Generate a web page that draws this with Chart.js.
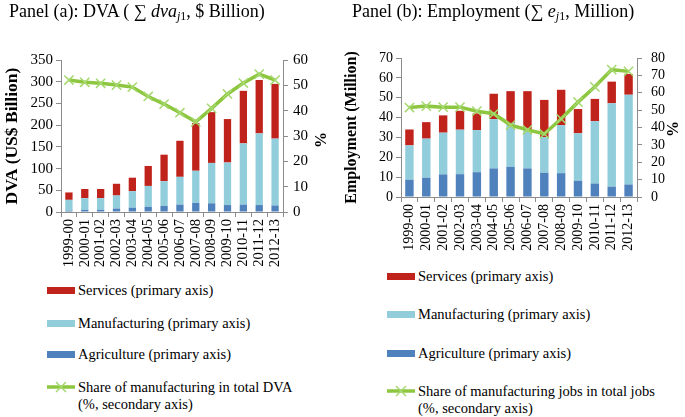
<!DOCTYPE html>
<html>
<head>
<meta charset="utf-8">
<script src="https://cdn.jsdelivr.net/npm/chart.js@4.4.1/dist/chart.umd.min.js"></script>
<style>
  body { margin: 0; background: #fff; }
  #wrap { position: relative; width: 685px; height: 417px; overflow: hidden; font-family: "Liberation Serif", "Times New Roman", serif; color: #000; }
  canvas { position: absolute; top: 0; }
  .title { position: absolute; top: 0; font-size: 18px; line-height: 22px; white-space: nowrap; }
  .title sub { font-size: 12px; vertical-align: -3px; }
  .pct { position: absolute; width: 20px; height: 20px; line-height: 20px; text-align: center;
    font-size: 16px; font-weight: bold; transform: rotate(-90deg); }
  .leg { position: absolute; font-size: 14.5px; line-height: 17px; white-space: nowrap; }
  .sw { position: absolute; left: 0; width: 28px; height: 7px; top: 5px; }
  .leg .txt { position: absolute; left: 31px; top: 0; }
</style>
</head>
<body>
<div id="wrap">
  <canvas id="chartA" width="340" height="280" style="left:0"></canvas>
  <canvas id="chartB" width="345" height="265" style="left:340px"></canvas>
  <div class="title" style="left:9px">Panel (a): DVA ( &sum; <i>dva</i><sub><i>j</i>1</sub>, $ Billion)</div>
  <div class="title" style="left:352px">Panel (b): Employment (&sum; <i>e</i><sub><i>j</i>1</sub>, Million)</div>
  <div class="pct" style="left:311px;top:130px">%</div>
  <div class="pct" style="left:663px;top:119px">%</div>
  <div id="legA"></div>
  <div id="legB"></div>
</div>
<script>
const years = ['1999-00', '2000-01', '2001-02', '2002-03', '2003-04', '2004-05', '2005-06',
  '2006-07', '2007-08', '2008-09', '2009-10', '2010-11', '2011-12', '2012-13'];

// Panel (a): DVA, $ billion (stacked)
const dvaAgriculture = [3, 5, 5, 8, 10, 12, 14, 17, 21, 20, 16, 17, 16, 15];
const dvaManufacturing = [25, 27, 27, 30, 38, 48, 57, 64, 74, 93, 98, 141, 165, 154];
const dvaServices = [17, 21, 21, 27, 31, 46, 61, 83, 110, 117, 100, 121, 123, 126];
const dvaShare = [52.1, 51.2, 50.8, 50.1, 49.3, 45.6, 42.6, 39.2, 35.6, 40.9, 46.6, 50.9, 54.4, 52.1];

// Panel (b): employment, million (stacked)
const empAgriculture = [8.7, 9.7, 11.4, 11.5, 12.5, 14.4, 15.2, 14.4, 12.2, 12.0, 8.2, 6.8, 5.2, 6.3];
const empManufacturing = [17.3, 19.7, 21.0, 22.4, 21.2, 24.8, 22.0, 19.6, 18.0, 24.2, 23.9, 31.4, 42.0, 45.2];
const empServices = [8.0, 8.3, 8.7, 9.5, 8.4, 12.8, 16.1, 19.3, 18.7, 17.8, 12.2, 11.2, 10.9, 10.5];
const empShare = [51.5, 52.3, 51.7, 51.7, 49.4, 47.9, 41.4, 38.7, 36.3, 45.0, 54.6, 63.4, 73.3, 72.3];

const RED = '#C0231B';
const LIGHT = '#92CDDC';
const DARK = '#4F81BD';
const GREEN = '#8DC63F';
const AXIS = '#8c8c8c';
const SERIF = '"Liberation Serif", "Times New Roman", serif';

function makeChart(id, o) {
  const bar = (label, data, color) => ({
    type: 'bar', label, data, backgroundColor: color, borderWidth: 0,
    barPercentage: o.barPct, categoryPercentage: 1, yAxisID: 'y', order: 1
  });
  new Chart(document.getElementById(id), {
    data: {
      labels: years,
      datasets: [
        bar('Agriculture (primary axis)', o.agri, DARK),
        bar('Manufacturing (primary axis)', o.manu, LIGHT),
        bar('Services (primary axis)', o.serv, RED),
        {
          type: 'line', label: o.shareLabel, data: o.share, yAxisID: 'y1', order: 0,
          borderColor: GREEN, borderWidth: 3.5, tension: 0,
          pointStyle: 'crossRot', pointRadius: 6.5, pointBorderWidth: 1.5,
          pointBorderColor: '#A5D86E', pointBackgroundColor: '#A5D86E'
        }
      ]
    },
    options: {
      responsive: false,
      animation: false,
      devicePixelRatio: 1,
      layout: { padding: { top: o.top, left: 0, right: 0, bottom: 0 } },
      plugins: { legend: { display: false }, tooltip: { enabled: false } },
      scales: {
        x: {
          stacked: true, offset: true,
          grid: { display: true, drawOnChartArea: false, offset: true, tickLength: 5, color: AXIS },
          border: { color: AXIS },
          ticks: { autoSkip: false, maxRotation: 90, minRotation: 90, padding: 2, color: '#000',
            font: { family: SERIF, size: o.xFont } },
          afterFit: s => { s.height = o.xHeight; }
        },
        y: {
          stacked: true, position: 'left', min: 0, max: o.yMax,
          grid: { drawOnChartArea: false, tickLength: 5, color: AXIS },
          border: { color: AXIS },
          ticks: { autoSkip: false, stepSize: o.yStep, padding: 3, color: '#000', font: { family: SERIF, size: o.yFont } },
          title: { display: true, text: o.yTitle, color: '#000', padding: { top: 2, bottom: 0 },
            font: { family: SERIF, size: o.yTitleFont, weight: 'bold' } },
          afterFit: s => { s.width = o.leftW; }
        },
        y1: {
          position: 'right', min: 0, max: o.y1Max,
          grid: { drawOnChartArea: false, tickLength: 5, color: AXIS },
          border: { color: AXIS },
          ticks: { autoSkip: false, stepSize: 10, padding: o.rightPad, color: '#000', font: { family: SERIF, size: o.yFont } },
          afterFit: s => { s.width = o.rightW; }
        }
      }
    }
  });
}

makeChart('chartA', {
  agri: dvaAgriculture, manu: dvaManufacturing, serv: dvaServices, share: dvaShare,
  shareLabel: 'Share of manufacturing in total DVA (%, secondary axis)',
  yTitle: 'DVA (US$ Billion)', yTitleFont: 17.5, yMax: 350, yStep: 50, y1Max: 60,
  top: 60, leftW: 61, rightW: 57, xHeight: 68, xFont: 14.5, yFont: 15, barPct: 0.46, rightPad: 5
});

makeChart('chartB', {
  agri: empAgriculture, manu: empManufacturing, serv: empServices, share: empShare,
  shareLabel: 'Share of manufacturing jobs in total jobs (%, secondary axis)',
  yTitle: 'Employment (Million)', yTitleFont: 16, yMax: 70, yStep: 10, y1Max: 80,
  top: 58, leftW: 61, rightW: 48, xHeight: 68, xFont: 14, yFont: 14, barPct: 0.5, rightPad: 9
});

// legends (HTML, vertical list like the original)
function legend(elId, x, ys, shareLines) {
  const items = [
    { color: RED, text: 'Services (primary axis)' },
    { color: LIGHT, text: 'Manufacturing (primary axis)' },
    { color: DARK, text: 'Agriculture (primary axis)' },
    { line: true, text: shareLines }
  ];
  const host = document.getElementById(elId);
  items.forEach((it, i) => {
    const d = document.createElement('div');
    d.className = 'leg';
    d.style.left = x + 'px';
    d.style.top = (ys[i] - 8.5) + 'px';
    if (it.line) {
      d.innerHTML = '<svg class="sw" style="height:14px;top:1px" width="28" height="14">' +
        '<line x1="0" y1="7" x2="28" y2="7" stroke="' + GREEN + '" stroke-width="3.5"/>' +
        '<line x1="9" y1="2" x2="19" y2="12" stroke="#A5D86E" stroke-width="1.5"/>' +
        '<line x1="9" y1="12" x2="19" y2="2" stroke="#A5D86E" stroke-width="1.5"/></svg>' +
        '<span class="txt">' + it.text + '</span>';
    } else {
      d.innerHTML = '<span class="sw" style="background:' + it.color + '"></span><span class="txt">' + it.text + '</span>';
    }
    host.appendChild(d);
  });
}
legend('legA', 47, [290, 323, 354, 387], 'Share of manufacturing in total DVA<br>(%, secondary axis)');
legend('legB', 387, [276, 314, 353, 391], 'Share of manufacturing jobs in total jobs<br>(%, secondary axis)');
</script>
</body>
</html>
